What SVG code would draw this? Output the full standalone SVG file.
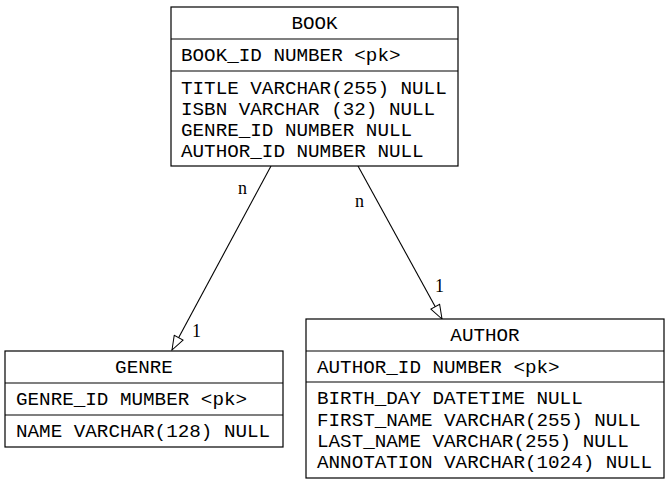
<svg xmlns="http://www.w3.org/2000/svg" width="669" height="485" viewBox="0 0 669 485">
<style>
.box{fill:#fff;stroke:#000;stroke-width:1.2}
.sep{stroke:#000;stroke-width:1.2}
.t{font-family:"Liberation Mono","DejaVu Sans Mono",monospace;font-size:19.25px;fill:#000}
.h{text-anchor:middle}
.lbl{font-family:"Liberation Serif","Times New Roman",serif;font-size:18px;fill:#000}
.edge{stroke:#000;stroke-width:1.1;fill:none}
</style>
<defs>
<marker id="arr" markerUnits="userSpaceOnUse" markerWidth="16" markerHeight="12" refX="14" refY="5" orient="auto" viewBox="-1 -1 16 12">
<path d="M0,0 L14,5 L0,10 Z" fill="#fff" stroke="#000" stroke-width="1"/>
</marker>
</defs>
<rect width="669" height="485" fill="#fff"/>
<g id="connectors">
<line class="edge" x1="271" y1="166" x2="172" y2="350" marker-end="url(#arr)"/>
<line class="edge" x1="358" y1="166" x2="442" y2="319" marker-end="url(#arr)"/>
<text class="lbl" x="238" y="194">n</text>
<text class="lbl" x="192" y="337">1</text>
<text class="lbl" x="355" y="207">n</text>
<text class="lbl" x="435" y="292">1</text>
</g>
<g id="book">
<rect class="box" x="171" y="7" width="287" height="159"/>
<line class="sep" x1="171" y1="39" x2="458" y2="39"/>
<line class="sep" x1="171" y1="71" x2="458" y2="71"/>
<text class="t h" x="314.5" y="29">BOOK</text>
<text class="t" x="181" y="61">BOOK_ID NUMBER &lt;pk&gt;</text>
<text class="t" x="181" y="94">TITLE VARCHAR(255) NULL</text>
<text class="t" x="181" y="115">ISBN VARCHAR (32) NULL</text>
<text class="t" x="181" y="136">GENRE_ID NUMBER NULL</text>
<text class="t" x="181" y="157">AUTHOR_ID NUMBER NULL</text>
</g>
<g id="genre">
<rect class="box" x="5" y="351" width="278" height="96"/>
<line class="sep" x1="5" y1="383" x2="283" y2="383"/>
<line class="sep" x1="5" y1="415" x2="283" y2="415"/>
<text class="t h" x="144" y="373">GENRE</text>
<text class="t" x="16" y="405">GENRE_ID MUMBER &lt;pk&gt;</text>
<text class="t" x="16" y="437">NAME VARCHAR(128) NULL</text>
</g>
<g id="author">
<rect class="box" x="306" y="319" width="358" height="159"/>
<line class="sep" x1="306" y1="351" x2="664" y2="351"/>
<line class="sep" x1="306" y1="382" x2="664" y2="382"/>
<text class="t h" x="485" y="341">AUTHOR</text>
<text class="t" x="317" y="373">AUTHOR_ID NUMBER &lt;pk&gt;</text>
<text class="t" x="317" y="404">BIRTH_DAY DATETIME NULL</text>
<text class="t" x="317" y="426">FIRST_NAME VARCHAR(255) NULL</text>
<text class="t" x="317" y="447">LAST_NAME VARCHAR(255) NULL</text>
<text class="t" x="317" y="468">ANNOTATION VARCHAR(1024) NULL</text>
</g>
</svg>
